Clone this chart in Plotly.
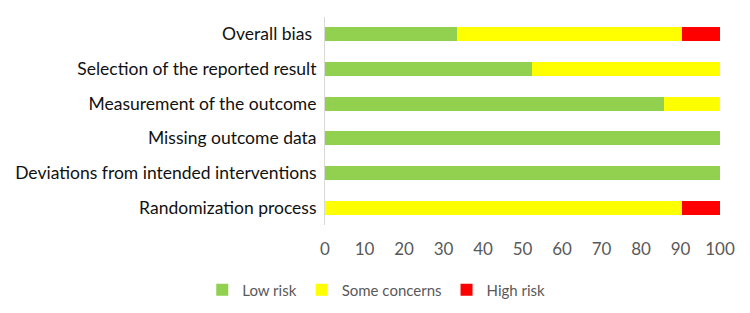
import plotly.graph_objects as go

categories = ["Randomization process", "Deviations from intended interventions",
              "Missing outcome data", "Measurement of the outcome",
              "Selection of the reported result", "Overall bias "]
low_risk = [0, 100, 100, 85.7, 52.4, 33.3]
some_concerns = [90.5, 0, 0, 14.3, 47.6, 57.2]
high_risk = [9.5, 0, 0, 0, 0, 9.5]
tick_vals = [0, 10, 20, 30, 40, 50, 60, 70, 80, 90, 100]

fig = go.Figure()
for name, vals, col in [("Low risk", low_risk, "#92d050"),
                        ("Some concerns", some_concerns, "#ffff00"),
                        ("High risk", high_risk, "#ff0000")]:
    fig.add_trace(go.Bar(y=categories, x=vals, name=name, orientation="h",
                         marker=dict(color=col, line=dict(width=0)), width=0.4))

fig.update_layout(
    barmode="stack",
    width=750, height=313,
    margin=dict(l=317, r=38, t=9, b=96, autoexpand=False),
    paper_bgcolor="white", plot_bgcolor="white",
    font=dict(family="Lato, sans-serif"),
    xaxis=dict(range=[0, 100], tickvals=tick_vals, showgrid=False, zeroline=False,
               showline=False, tickfont=dict(size=17, color="#595959"),
               ticks="outside", ticklen=9, tickcolor="rgba(0,0,0,0)",
               automargin=False),
    yaxis=dict(showline=True, linecolor="#d9d9d9", linewidth=1, showgrid=False,
               tickfont=dict(size=17.5, color="#111111"), ticks="outside",
               ticklen=4, tickcolor="rgba(0,0,0,0)", range=[-0.5, 5.5],
               automargin=False),
    legend=dict(orientation="h", xref="container", yref="container",
                x=0.259, y=0.099, xanchor="left", yanchor="middle",
                font=dict(size=15, color="#595959"), traceorder="normal",
                itemwidth=30),
    showlegend=True,
)
fig.write_html("out.html")
